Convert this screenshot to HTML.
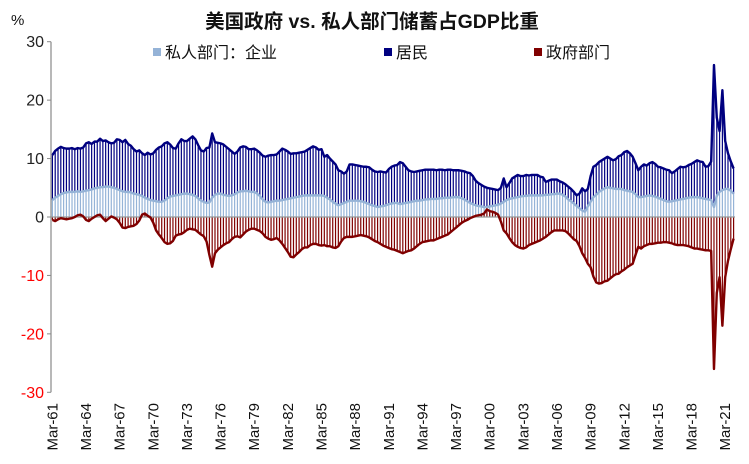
<!DOCTYPE html>
<html><head><meta charset="utf-8"><style>
body{margin:0;background:#fff;}
svg{display:block;font-family:"Liberation Sans","Noto Sans CJK SC",sans-serif;}
</style></head><body>
<svg id="c" width="749" height="464" viewBox="0 0 749 464">
<text x="372" y="28" text-anchor="middle" font-size="19.5" font-weight="bold" fill="#111">美国政府 vs. 私人部门储蓄占GDP比重</text>
<text x="11" y="25" font-size="15" fill="#111">%</text>
<g>
<rect x="153" y="48" width="8" height="8" fill="#95B3D7"/>
<text x="165" y="58" font-size="16" fill="#111">私人部门：企业</text>
<rect x="384" y="48" width="8" height="8" fill="#000080"/>
<text x="396" y="58" font-size="16" fill="#111">居民</text>
<rect x="534" y="48" width="8" height="8" fill="#800000"/>
<text x="546" y="58" font-size="16" fill="#111">政府部门</text>
</g>
<g id="plot"></g>
</svg>
<script>
const yTicks=[30,20,10,0,-10,-20,-30];
const xLabelYears=["61","64","67","70","73","76","79","82","85","88","91","94","97","00","03","06","09","12","15","18","21"];
// total private (top of stack), corporate, government — quarterly from Mar-61
const totalTop=[
10.6,11.3,11.7,12.0, 11.8,11.7,11.7,11.8, 11.6,11.8,11.7,11.9, 12.6,12.8,12.5,12.9, 12.9,13.4,13.0,13.1,
12.8,12.6,12.7,13.3, 13.2,12.8,13.2,12.5, 12.2,11.6,11.2,11.4, 10.9,10.6,11.0,10.7, 10.9,11.5,11.9,12.1,
12.6,12.8,12.4,11.8, 11.7,12.6,13.3,13.0, 13.0,13.4,13.8,13.3, 12.3,11.4,11.2,11.8, 11.9,14.3,12.8,12.7,
12.6,12.4,12.0,11.6, 11.2,10.8,11.2,11.9, 12.1,12.0,11.6,11.6, 11.7,11.4,11.0,10.5, 10.3,10.5,10.6,10.6,
10.7,11.2,11.7,11.5, 11.2,10.8,10.9,10.9, 11.0,11.1,11.2,11.5, 11.8,12.1,11.9,11.5, 11.6,10.3,10.6,10.0,
9.5,9.0,8.0,7.8, 7.4,7.8,9.0,9.0, 8.9,8.8,8.7,8.6, 8.6,8.5,8.1,7.8, 7.7,7.8,7.7,7.6,
8.2,8.6,8.8,8.9, 9.4,9.2,8.6,8.0, 7.8,7.7,7.8,7.9, 8.0,8.1,8.1,8.1, 8.1,8.0,8.1,8.1,
8.0,8.1,8.1,8.0, 8.0,8.0,7.9,7.8, 7.6,7.5,7.0,6.2, 5.8,5.5,5.2,5.0, 4.9,4.8,4.7,4.6,
5.0,6.6,5.1,5.8, 6.6,6.9,7.2,7.0, 7.0,7.2,7.1,7.2, 7.2,7.2,6.9,6.8, 6.0,6.2,6.4,6.4,
6.4,6.1,5.9,5.6, 5.2,4.8,4.3,3.7, 4.0,4.9,4.4,4.8, 7.0,8.6,8.9,9.4, 9.7,10.0,10.3,10.0,
9.7,9.9,10.4,10.6, 11.1,11.3,10.9,10.3, 9.2,8.0,8.6,9.0, 8.8,9.2,9.4,9.1, 8.6,8.5,8.3,8.1,
8.0,7.5,7.8,8.2, 8.6,8.5,8.6,8.9, 9.1,9.4,9.7,9.5, 9.4,8.6,8.7,9.5, 26.0,17.0,14.7,21.7,
13.0,10.9,9.5,8.3];
const corporate=[
2.9,3.3,3.6,3.9, 4.1,4.2,4.3,4.3, 4.3,4.4,4.3,4.4, 4.5,4.6,4.7,4.9, 5.0,5.1,5.1,5.2,
5.2,5.1,5.0,4.8, 4.6,4.4,4.3,4.3, 4.2,4.0,3.9,3.8, 3.6,3.3,3.1,2.9, 2.8,2.7,2.6,2.6,
2.8,3.2,3.5,3.6, 3.7,3.8,3.9,4.0, 4.0,3.9,3.8,3.6, 3.2,2.8,2.6,2.4, 2.5,3.3,3.8,4.0,
4.0,3.8,3.7,3.6, 3.7,3.9,4.2,4.4, 4.4,4.5,4.4,4.3, 4.3,4.0,3.6,3.0, 2.6,2.5,2.6,2.7,
2.8,2.8,2.9,3.0, 3.1,3.2,3.3,3.4, 3.5,3.6,3.7,3.7, 3.7,3.7,3.7,3.7, 3.7,3.6,3.3,3.0,
2.6,2.3,2.0,2.2, 2.4,2.6,2.8,2.8, 2.8,2.8,2.7,2.6, 2.4,2.2,2.0,1.9, 1.7,1.8,1.9,2.0,
2.2,2.3,2.4,2.4, 2.2,2.3,2.4,2.5, 2.6,2.7,2.8,2.8, 2.9,3.0,3.0,3.1, 3.1,3.1,3.2,3.2,
3.3,3.3,3.3,3.4, 3.4,3.4,3.2,3.0, 2.7,2.4,2.2,2.0, 1.9,1.8,1.7,1.7, 1.8,1.9,2.0,2.1,
2.3,2.6,2.9,3.1, 3.2,3.3,3.4,3.5, 3.6,3.6,3.7,3.7, 3.7,3.7,3.7,3.7, 3.8,3.8,3.9,3.9,
4.0,4.0,3.8,3.5, 3.0,2.7,2.3,1.9, 1.5,1.1,0.9,1.8, 2.6,3.4,3.8,4.3, 4.6,4.9,5.1,5.0,
4.9,4.8,4.8,4.8, 4.6,4.5,4.4,4.3, 3.9,3.4,3.4,3.5, 3.6,3.7,3.6,3.5, 3.3,3.1,2.9,2.7,
2.6,2.7,2.8,2.9, 3.0,3.1,3.2,3.3, 3.4,3.4,3.4,3.3, 3.2,3.1,3.0,2.9, 1.7,3.6,4.3,4.6,
4.8,4.8,4.5,4.0];
const government=[
-0.5,-0.7,-0.4,-0.2, -0.3,-0.4,-0.3,-0.2, 0.0,0.3,0.4,0.1, -0.5,-0.7,-0.3,0.0, 0.3,0.4,-0.2,-0.7,
-0.3,0.1,-0.1,-0.4, -1.0,-1.8,-1.9,-1.7, -1.6,-1.5,-1.2,-0.6, 0.4,0.6,0.2,-0.1, -1.0,-2.3,-3.0,-3.6,
-4.3,-4.6,-4.5,-4.1, -3.2,-3.0,-2.9,-2.6, -2.2,-2.0,-2.1,-2.2, -2.6,-3.0,-3.3,-4.2, -6.5,-8.5,-6.2,-5.6,
-5.2,-4.8,-4.5,-4.3, -3.8,-3.4,-3.3,-3.5, -3.0,-2.5,-2.2,-2.0, -2.0,-2.2,-2.4,-2.8, -3.4,-3.7,-3.9,-3.8,
-3.6,-4.0,-4.6,-5.3, -6.0,-6.8,-6.9,-6.4, -6.0,-5.5,-5.2,-5.2, -4.8,-4.6,-4.6,-4.8, -4.9,-4.8,-5.0,-5.0,
-5.2,-5.3,-5.0,-4.2, -3.6,-3.4,-3.4,-3.4, -3.3,-3.2,-3.1,-3.2, -3.3,-3.5,-3.8,-4.1, -4.3,-4.6,-4.9,-5.1,
-5.3,-5.5,-5.6,-5.8, -6.0,-6.2,-6.0,-5.8, -5.7,-5.4,-5.0,-4.6, -4.3,-4.2,-4.1,-4.0, -4.0,-3.8,-3.6,-3.4,
-3.2,-3.0,-2.6,-2.2, -1.8,-1.4,-1.0,-0.7, -0.5,-0.2,0.0,0.2, 0.3,0.4,0.6,1.3, 1.0,0.9,0.7,0.4,
-0.8,-2.3,-2.8,-3.6, -4.3,-4.8,-5.1,-5.3, -5.4,-5.2,-4.8,-4.6, -4.4,-4.2,-4.0,-3.7, -3.4,-3.0,-2.6,-2.3,
-2.3,-2.3,-2.3,-2.4, -2.8,-3.3,-3.8,-4.1, -5.0,-6.2,-7.0,-8.0, -8.6,-10.2,-11.2,-11.4, -11.3,-11.0,-10.9,-10.5,
-10.1,-9.8,-9.7,-9.3, -9.0,-8.6,-8.3,-8.0, -6.5,-5.1,-5.4,-5.0, -4.8,-4.6,-4.6,-4.5, -4.4,-4.4,-4.3,-4.3,
-4.4,-4.5,-4.7,-4.8, -4.8,-4.8,-4.9,-5.0, -5.2,-5.4,-5.4,-5.5, -5.6,-5.7,-5.7,-5.8, -26.0,-13.0,-10.3,-18.6,
-10.3,-7.5,-5.5,-3.7];

const NS="http://www.w3.org/2000/svg";
const plot=document.getElementById('plot');
const X0=51,X1=735,Y30=41.7,Ym30=392.3;
const N=totalTop.length;
const bw=(X1-X0)/N;
function xs(i){return X0+(i+0.5)*bw;}
function ys(v){return Y30+(30-v)*(Ym30-Y30)/60;}
function mk(tag,attrs,parent){const e=document.createElementNS(NS,tag);for(const k in attrs)e.setAttribute(k,attrs[k]);(parent||plot).appendChild(e);return e;}

const ax=mk('line',{x1:X0,y1:Y30,x2:X0,y2:Ym30,stroke:'#888','stroke-width':1.2});


yTicks.forEach(v=>{
  const t=mk('line',{x1:X0-4,y1:ys(v),x2:X0,y2:ys(v),stroke:'#888','stroke-width':1});
  
  
  const l=mk('text',{x:X0-7,y:ys(v)+5.5,'text-anchor':'end','font-size':16,fill:v<0?'#FF0000':'#222'});
  l.textContent=String(v);
  
  
});

const bars=mk('g',{});


for(let i=0;i<N;i++){
  const x=xs(i)-0.6;
  const c=corporate[i],t=totalTop[i],g=government[i];
  const b1=mk('rect',{x:x,y:ys(Math.max(c,0)),width:1.2,height:Math.abs(ys(0)-ys(c)),fill:'#95B3D7'},bars);
  
  
  const b2=mk('rect',{x:x,y:ys(t),width:1.2,height:Math.max(0,ys(c)-ys(t)),fill:'#000080'},bars);
  
  
  const b3=mk('rect',{x:x,y:ys(Math.max(g,0)),width:1.2,height:Math.abs(ys(0)-ys(g)),fill:'#800000'},bars);
  
  
}
const z=mk('line',{x1:X0,y1:ys(0),x2:X1,y2:ys(0),stroke:'#999','stroke-width':1.2});



function line(arr,color,name){
  let d='';
  arr.forEach((v,i)=>{d+=(i?'L':'M')+xs(i).toFixed(2)+' '+ys(v).toFixed(2);});
  const p=mk('path',{d:d,fill:'none',stroke:color,'stroke-width':2.4,'stroke-linejoin':'round'});
  
  
}
line(corporate,'#95B3D7','line-corporate');
line(totalTop,'#000080','line-household');
line(government,'#800000','line-government');

xLabelYears.forEach((yy,k)=>{
  const i=k*12;
  const x=xs(i);
  const l=mk('text',{x:0,y:0,'text-anchor':'end','font-size':15,fill:'#111',transform:`translate(${x+5},403) rotate(-90)`});
  l.textContent='Mar-'+yy;
  
  
});
</script>
</body></html>
